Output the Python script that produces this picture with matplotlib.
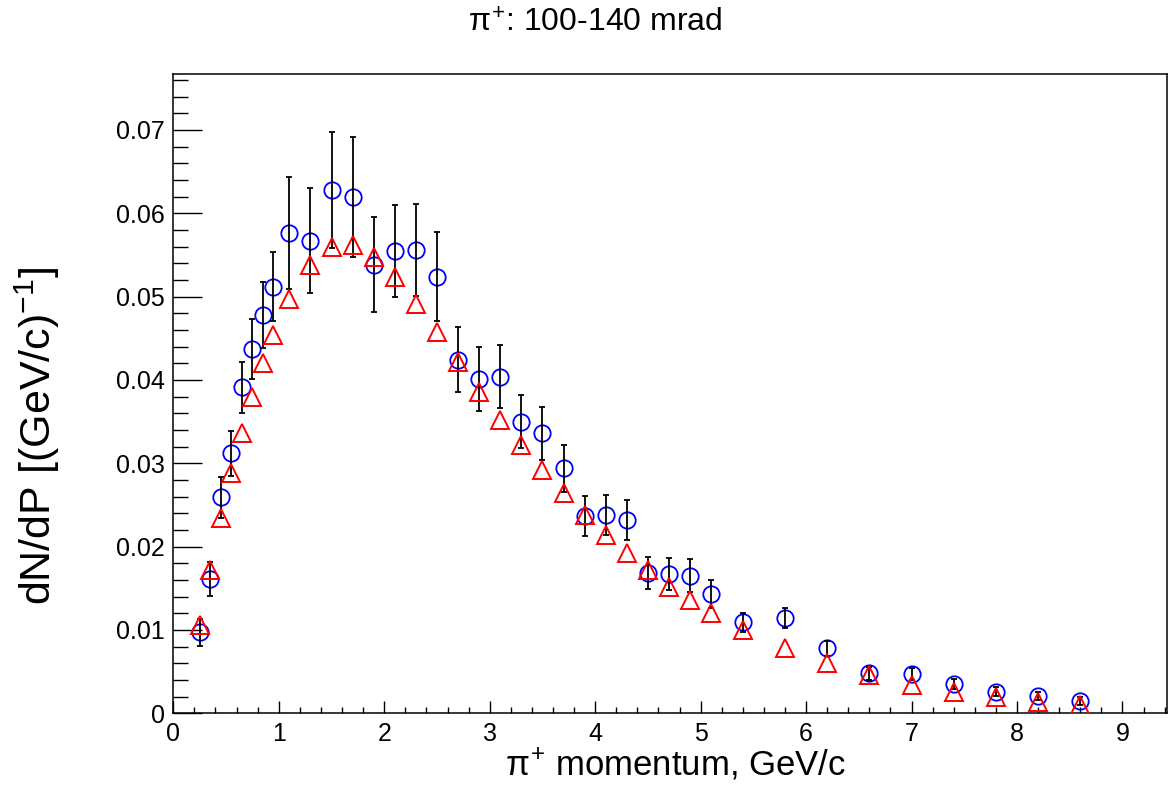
import matplotlib
matplotlib.use('Agg')
import matplotlib.pyplot as plt
from matplotlib.ticker import MultipleLocator, FuncFormatter

plt.rcParams['font.family'] = ['Liberation Sans', 'DejaVu Sans']
plt.rcParams['mathtext.fontset'] = 'custom'
plt.rcParams['mathtext.rm'] = 'Liberation Sans'
plt.rcParams['mathtext.it'] = 'Liberation Sans'

# momentum bins, GeV/c
p = [0.25, 0.35, 0.45, 0.55, 0.65, 0.75, 0.85, 0.95, 1.1, 1.3, 1.5, 1.7, 1.9,
     2.1, 2.3, 2.5, 2.7, 2.9, 3.1, 3.3, 3.5, 3.7, 3.9, 4.1, 4.3, 4.5, 4.7,
     4.9, 5.1, 5.4, 5.8, 6.2, 6.6, 7.0, 7.4, 7.8, 8.2, 8.6]

# measured dN/dP (blue circles) with errors
data = [0.0097, 0.0161, 0.0259, 0.0312, 0.0391, 0.0437, 0.0478, 0.0512,
        0.0576, 0.0567, 0.0628, 0.0620, 0.0538, 0.0555, 0.0556, 0.0524,
        0.0424, 0.0401, 0.0404, 0.0350, 0.0336, 0.0294, 0.0237, 0.0238,
        0.0232, 0.0168, 0.0167, 0.0165, 0.0143, 0.0109, 0.0114, 0.0078,
        0.0048, 0.0047, 0.0035, 0.0026, 0.0021, 0.0015]
err = [0.0016, 0.0020, 0.0025, 0.0027, 0.0031, 0.0036, 0.0040, 0.0041,
       0.0067, 0.0063, 0.0070, 0.0072, 0.0057, 0.0055, 0.0055, 0.0053,
       0.0039, 0.0038, 0.0038, 0.0032, 0.0032, 0.0028, 0.0024, 0.0024,
       0.0024, 0.0019, 0.0019, 0.0020, 0.0017, 0.0011, 0.0012, 0.0009,
       0.0008, 0.0007, 0.0006, 0.0005, 0.0005, 0.0005]

# model (red triangles)
model = [0.0106, 0.0172, 0.0234, 0.0288, 0.0336, 0.0380, 0.0420, 0.0454,
         0.0497, 0.0538, 0.0560, 0.0562, 0.0548, 0.0524, 0.0491, 0.0458,
         0.0422, 0.0386, 0.0352, 0.0322, 0.0292, 0.0264, 0.0238, 0.0214,
         0.0192, 0.0172, 0.0152, 0.0136, 0.0120, 0.0100, 0.0078, 0.0060,
         0.0046, 0.0034, 0.0026, 0.0020, 0.0014, 0.0010]

W, H = 1171, 789
fig = plt.figure(figsize=(W / 100, H / 100), dpi=100)
ax = fig.add_axes([0.148, 0.0959, 0.8484, 0.8103])

ax.plot(p, data, 'o', ms=11.8, mfc='none', mec='#0000ff', mew=1.3, zorder=3)
ax.errorbar(p, data, yerr=err, fmt='none', ecolor='black', elinewidth=1.3,
            capsize=2, capthick=1.3, zorder=4)
ax.plot(p, model, '^', ms=13.5, mfc='none', mec='#ff0000', mew=1.4, zorder=5)

ax.set_xlim(0, 9.42)
ax.set_ylim(0, 0.0767)

ax.xaxis.set_major_locator(MultipleLocator(1))
ax.xaxis.set_minor_locator(MultipleLocator(0.2))
ax.yaxis.set_major_locator(MultipleLocator(0.01))
ax.yaxis.set_minor_locator(MultipleLocator(0.002))
ax.yaxis.set_major_formatter(FuncFormatter(lambda v, pos: '0' if abs(v) < 1e-9 else f'{v:.2f}'))
ax.xaxis.set_major_formatter(FuncFormatter(lambda v, pos: f'{v:.0f}'))

ax.tick_params(axis='both', which='both', direction='in', width=1.0,
               labelsize=18, top=False, right=False)
ax.tick_params(axis='x', which='major', length=8.6, pad=6)
ax.tick_params(axis='x', which='minor', length=4.3)
ax.tick_params(axis='y', which='major', length=20.9, pad=6)
ax.tick_params(axis='y', which='minor', length=10.8)
for s in ax.spines.values():
    s.set_linewidth(1.1)

# axis titles and title placed like the ROOT canvas
fig.text(676 / W, 1 - 775 / H, r'$\pi^{+}$ momentum, GeV/c', fontsize=25,
         ha='center', va='baseline')
fig.text(37 / W, 1 - 436 / H, r'dN/dP [(GeV/c)$^{-1}$]', fontsize=31,
         ha='center', va='center', rotation=90)
fig.text(595 / W, 1 - 24 / H, r'$\pi^{+}$: 100-140 mrad', fontsize=23,
         ha='center', va='center')

fig.savefig('out.png', dpi=100)
